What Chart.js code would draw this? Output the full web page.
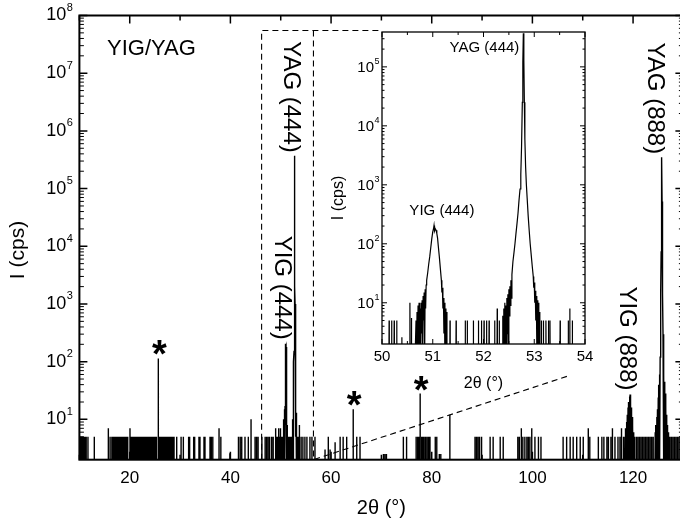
<!DOCTYPE html>
<html><head><meta charset="utf-8">
<script src="https://cdn.jsdelivr.net/npm/chart.js@4.4.1/dist/chart.umd.min.js"></script>
<style>
html,body{margin:0;padding:0;background:#fff;overflow:hidden;width:680px;height:527px;}
#wrap{position:relative;width:700px;height:527px;}
canvas{position:absolute;left:0;top:0;}
</style></head><body>
<div id="wrap"><canvas id="main" width="700" height="527"></canvas><canvas id="inset" width="700" height="527"></canvas></div>
<script>
// ---------- data (2θ in degrees, I in cps; ZERO = no counts, below the log axis) ----------
const ZERO = 1;
const mainNoiseAngles = [
 10.1,10.25,10.4,10.55,10.7,10.9,11.1,11.35,11.7,12.96,
 15.75,16.1,16.45,16.7,16.95,17.15,17.4,17.6,17.85,18.05,18.3,18.5,18.7,18.95,19.15,19.4,19.6,
 20.05,20.3,20.5,20.7,20.9,21.1,21.3,21.5,21.7,21.9,22.1,22.3,22.5,22.7,22.9,23.1,23.3,23.5,23.7,23.9,24.1,24.3,24.5,24.7,24.9,25.1,25.3,
 25.95,26.15,26.35,26.55,26.75,26.95,27.15,27.35,27.55,27.75,27.95,28.15,28.35,28.55,28.8,
 29.33,30.2,30.65,31.7,31.9,32.7,32.9,33.75,33.95,34.75,34.95,35.95,36.2,36.5,37.74,38.1,39.9,
 41.6,41.95,42.25,42.9,43.56,44.1,44.9,45.2,45.5,46.25,46.9,47.2,47.5,47.8,48.2,48.5,
 48.9,49.05,49.2,49.35,49.5,49.65,49.8,49.95,
 54.05,54.4,54.8,55.2,55.8,56.2,56.8,
 58.8,59.45,59.8,60.8,61.8,62.4,63.1,65.1,65.75,
 70.4,70.7,71.0,74.36,75.0,
 76.9,77.2,77.45,78.0,78.25,78.5,78.8,79.1,79.4,79.65,80.7,81.0,81.5,81.8,
 88.6,88.9,89.2,89.5,89.9,91.6,92.2,93.6,94.2,
 97.1,97.4,97.8,98.1,98.5,98.9,99.2,99.5,99.87,100.5,101.2,101.7,
 106.1,106.8,107.5,108.1,108.8,109.5,110.1,111.1,111.4,
 113.1,113.8,114.2,114.8,115.1,115.6,115.9,116.4,117.0,117.4,117.7,118.1,
 120.7,121.0,121.3,121.6,121.9,122.2,122.5,122.8,123.1,123.4,123.7,124.0,
 127.3,127.6,127.9,128.2,128.5,128.8,129.1,129.4
];
const mainNoiseCounts = [
 5,5,5,5,5,5,5,5,5,5,
 7,5,5,5,5,5,5,5,5,5,5,5,5,5,5,5,5,
 7,5,5,5,5,5,5,5,5,5,5,5,5,5,5,5,5,5,5,5,5,5,5,5,5,5,5,
 5,5,5,5,5,5,5,5,5,5,5,5,5,5,5,
 5,5,5,5,5,5,5,5,5,5,5,5,5,5,7,5,2.6,
 5,5,5,5,5,10,5,5,5,5,5,5,5,5,5,5,
 5,7,5,5,7,5,5,7,
 5,5,5,5,5,5,5,
 3,5,3,4,5,5,5,5,5,
 2.5,2.5,2.5,5,5,
 5,5,5,5,5,5,5,5,5,5,5,5,2.5,2.5,
 5,5,5,5,5,5,5,5,5,
 5,5,7,5,5,5,5,5,7,5,5,5,
 5,5,5,5,5,5,5,7,5,
 5,5,5,5,5,5,7,5,5,5,7,5,
 5,5,5,5,5,5,5,5,5,5,5,5,
 5,5,5,5,5,5,5,5
];
// single lines marked with *
const starredAngles = [25.68, 64.4, 77.7];
const starredCounts = [114, 15, 28];
const otherLineAngles = [83.6];
const otherLineCounts = [12];
// YIG (888) and YAG (888) profiles
const yig888Angles = [118.35,118.4,118.45,118.55,118.6,118.7,118.75,118.85,118.9,119.0,119.05,119.15,119.2,119.3,119.35,119.4,119.45,119.5,119.55,119.65,119.7,119.8,119.85,119.95,120.0,120.1,120.15,120.3,120.35];
const yig888Counts = [1,5,1,7,1,9,1,12,1,16,1,20,1,25,1,27,1,22,1,16,1,11,1,8,1,6,1,5,1];
const yag888Angles = [124.35,124.4,124.45,124.55,124.6,124.7,124.75,124.85,124.9,125.0,125.05,125.12,125.17,125.25,125.3,125.38,125.45,125.52,125.58,125.64,125.7,125.76,125.82,125.88,125.95,126.02,126.08,126.13,126.2,126.27,126.32,126.4,126.45,126.53,126.58,126.66,126.71,126.8,126.85,126.95,127.0,127.1,127.15];
const yag888Counts = [1,6,1,8,1,11,1,15,1,24,1,40,1,60,2,120,300,1500,8000,60000,350000,60000,8000,1500,300,120,2,60,1,45,1,28,1,18,1,12,1,8,1,6,1,5,1];
// fine scan 50-54° (inset)
const scanNoiseAngles = [50.14,50.19,50.24,50.29,50.39,50.55,50.58,51.34,51.46,51.64,51.68,51.80,51.90,51.96,52.01,52.06,52.11,52.22,52.27,52.31,53.14,53.18,53.23,53.28,53.31,53.51,53.67,53.70,53.75];
const scanNoiseCounts = [5,5,5,5,2.6,10,5.5,5,5,5,5,5,5,5,5,5,5,5,8,5,5,5,5,5,5,5,5,8,5];
const yig444Angles = [50.65,50.67,50.68,50.69,50.70,50.71,50.72,50.73,50.74,50.75,50.76,50.77,50.78,50.79,50.80,50.81,50.82,50.83,50.84,50.85,50.86,50.87,50.88,50.90,50.92,50.94,50.96,50.98,51.00,51.015,51.025,51.035,51.05,51.065,51.08,51.095,51.11,51.13,51.15,51.17,51.18,51.19,51.20,51.21,51.22,51.23,51.24,51.25,51.26,51.27,51.28];
const yig444Counts = [1,5,1,7,1,9,1,10,1,8,1,10,3,11,1,13,5,15,1,17,8,20,24,32,45,60,85,120,160,180,205,165,180,170,150,125,90,60,38,24,15,18,8,12,3,10,1,8,1,7,1];
const yag444Angles = [52.37,52.38,52.39,52.40,52.41,52.42,52.43,52.44,52.45,52.46,52.47,52.48,52.49,52.50,52.51,52.52,52.53,52.54,52.55,52.56,52.58,52.60,52.62,52.64,52.66,52.68,52.70,52.72,52.735,52.75,52.765,52.775,52.785,52.795,52.805,52.815,52.83,52.845,52.86,52.88,52.90,52.92,52.94,52.96,52.98,52.99,53.00,53.01,53.02,53.03,53.04,53.05,53.06,53.07,53.08,53.09,53.10,53.11];
const yag444Counts = [1,6,1,8,1,10,2,9,1,12,3,14,2,17,6,19,9,24,12,30,50,70,100,150,220,330,550,850,1500,4500,25000,120000,370000,130000,25000,6000,2000,1000,600,300,170,100,65,42,28,18,22,10,16,5,13,2,11,1,10,1,7,1];
// ticks
const mainXMajor = [20,40,60,80,100,120];
const mainXMinor = [10,30,50,70,90,110,130];
const mainYDecades = [1,2,3,4,5,6,7,8];
const insetXMajor = [50,51,52,53,54];
const insetXMinor = [50.5,51.5,52.5,53.5];
const insetYDecades = [1,2,3,4,5];

// ---------- build series ----------
function spikes(angles, counts){const p=[];angles.forEach((a,i)=>{p.push({x:a-0.004,y:ZERO},{x:a,y:counts[i]},{x:a+0.004,y:ZERO});});return p;}
function profile(angles, counts){return angles.map((a,i)=>({x:a,y:counts[i]}));}
const byX=(a,b)=>a.x-b.x;
const scanSeries = [...spikes(scanNoiseAngles,scanNoiseCounts),...profile(yig444Angles,yig444Counts),...profile(yag444Angles,yag444Counts)].sort(byX);
const mainSeries = [...spikes(mainNoiseAngles,mainNoiseCounts),...spikes(starredAngles,starredCounts),...spikes(otherLineAngles,otherLineCounts),
  ...profile(yig888Angles,yig888Counts),...profile(yag888Angles,yag888Counts),...scanSeries].sort(byX);

// zoom box guide (data coordinates of the main chart)
const boxLeft=46.2, boxRight=56.5, boxTop=5.5e7, boxLinkEnd=69.4, diagEndX=107.5, diagEndY=58;

const FONT='"Liberation Sans", Arial, Helvetica, sans-serif';
function powerLabel(ctx, right, cy, exp, size, supSize){
  ctx.textBaseline='middle'; ctx.textAlign='left';
  ctx.font=`${supSize}px ${FONT}`; const ws=ctx.measureText(exp).width;
  ctx.font=`${size}px ${FONT}`; const wb=ctx.measureText('10').width;
  const x0=right-ws-wb;
  ctx.fillText('10',x0,cy);
  ctx.font=`${supSize}px ${FONT}`; ctx.fillText(exp,x0+wb+0.5,cy-size*0.42);
}
function vtext(ctx, text, x, y, size, rot, align){
  ctx.save(); ctx.translate(x,y); ctx.rotate(rot);
  ctx.font=`${size}px ${FONT}`; ctx.textAlign=align; ctx.textBaseline='middle';
  ctx.fillText(text,0,0); ctx.restore();
}

const mainDecor={id:'mainDecor',afterDraw(chart){
  const {ctx,chartArea:a,scales:{x,y}}=chart;
  ctx.save(); ctx.strokeStyle='#000'; ctx.fillStyle='#000';
  ctx.lineWidth=1.5; ctx.beginPath();
  for(const v of mainXMajor){const p=x.getPixelForValue(v);ctx.moveTo(p,a.bottom);ctx.lineTo(p,a.bottom-8);ctx.moveTo(p,a.top);ctx.lineTo(p,a.top+8);}
  for(const v of mainXMinor){const p=x.getPixelForValue(v);ctx.moveTo(p,a.bottom);ctx.lineTo(p,a.bottom-5);ctx.moveTo(p,a.top);ctx.lineTo(p,a.top+5);}
  for(const d of mainYDecades){const p=y.getPixelForValue(10**d);ctx.moveTo(a.left,p);ctx.lineTo(a.left+8,p);ctx.moveTo(a.right,p);ctx.lineTo(a.right-8,p);}
  ctx.stroke();
  ctx.lineWidth=1; ctx.beginPath();
  for(let d=0;d<8;d++){for(let m=2;m<=9;m++){const v=m*10**d;if(v<=y.min||v>=y.max)continue;const p=y.getPixelForValue(v);ctx.moveTo(a.left,p);ctx.lineTo(a.left+4.5,p);ctx.moveTo(a.right,p);ctx.lineTo(a.right-4.5,p);}}
  ctx.stroke();
  ctx.lineWidth=2; ctx.strokeRect(a.left,a.top,a.right-a.left,a.bottom-a.top);
  // tick labels
  ctx.font=`17px ${FONT}`; ctx.textAlign='center'; ctx.textBaseline='top';
  for(const v of mainXMajor){ctx.fillText(String(v),x.getPixelForValue(v),a.bottom+10);}
  for(const d of mainYDecades){powerLabel(ctx,a.left-7,y.getPixelForValue(10**d),String(d),18,11);}
  // axis titles
  ctx.font=`20px ${FONT}`; ctx.textAlign='center'; ctx.textBaseline='middle';
  ctx.fillText('2θ (°)',(a.left+a.right)/2,508);
  vtext(ctx,'I (cps)',18,250,21,-Math.PI/2,'center');
  // annotations
  ctx.font=`22px ${FONT}`; ctx.textAlign='left'; ctx.textBaseline='middle';
  ctx.fillText('YIG/YAG',107,49);
  vtext(ctx,'YAG (444)',x.getPixelForValue(52.785)-4,y.getPixelForValue(3.7e5)-3,24,Math.PI/2,'right');
  vtext(ctx,'YIG (444)',x.getPixelForValue(51.025)-4,y.getPixelForValue(205)-4,24,Math.PI/2,'right');
  vtext(ctx,'YAG (888)',x.getPixelForValue(125.7)-7,y.getPixelForValue(3.5e5)-3,24,Math.PI/2,'right');
  vtext(ctx,'YIG (888)',x.getPixelForValue(119.4)-3,y.getPixelForValue(27)-4,24,Math.PI/2,'right');
  ctx.font=`bold 38px ${FONT}`; ctx.textAlign='center'; ctx.textBaseline='alphabetic';
  starredAngles.forEach((a2,i)=>{ctx.fillText('*',x.getPixelForValue(a2)+1,y.getPixelForValue(starredCounts[i])+9);});
  ctx.restore();
}};

new Chart(document.getElementById('main'),{
  type:'line',
  data:{datasets:[
    {data:mainSeries,borderColor:'#000',borderWidth:1.4,pointRadius:0,tension:0,fill:false},
    {data:[{x:boxLinkEnd,y:boxTop},{x:boxLeft,y:boxTop},{x:boxLeft,y:2}],borderColor:'#000',borderWidth:1.1,borderDash:[6,4],pointRadius:0,fill:false},
    {data:[{x:boxRight,y:boxTop},{x:boxRight,y:2},{x:diagEndX,y:diagEndY}],borderColor:'#000',borderWidth:1.1,borderDash:[6,4],pointRadius:0,fill:false}
  ]},
  options:{responsive:false,animation:false,events:[],
    layout:{padding:{left:79.4,right:16.6,top:15.5,bottom:67.3}},
    scales:{x:{type:'linear',min:10,max:130,display:false},y:{type:'logarithmic',min:2,max:1e8,display:false}},
    plugins:{legend:{display:false},tooltip:{enabled:false}}},
  plugins:[mainDecor]
});

const insetDecor={id:'insetDecor',afterDraw(chart){
  const {ctx,chartArea:a,scales:{x,y}}=chart;
  ctx.save(); ctx.strokeStyle='#000'; ctx.fillStyle='#000';
  ctx.lineWidth=1; ctx.beginPath();
  for(const v of insetXMajor){const p=x.getPixelForValue(v);ctx.moveTo(p,a.bottom);ctx.lineTo(p,a.bottom-5);ctx.moveTo(p,a.top);ctx.lineTo(p,a.top+5);}
  for(const v of insetXMinor){const p=x.getPixelForValue(v);ctx.moveTo(p,a.bottom);ctx.lineTo(p,a.bottom-3);ctx.moveTo(p,a.top);ctx.lineTo(p,a.top+3);}
  for(const d of insetYDecades){const p=y.getPixelForValue(10**d);ctx.moveTo(a.left,p);ctx.lineTo(a.left+5,p);ctx.moveTo(a.right,p);ctx.lineTo(a.right-5,p);}
  for(let d=0;d<6;d++){for(let m=2;m<=9;m++){const v=m*10**d;if(v<=y.min||v>=y.max)continue;const p=y.getPixelForValue(v);ctx.moveTo(a.left,p);ctx.lineTo(a.left+2.5,p);ctx.moveTo(a.right,p);ctx.lineTo(a.right-2.5,p);}}
  ctx.stroke();
  ctx.lineWidth=1.3; ctx.strokeRect(a.left,a.top,a.right-a.left,a.bottom-a.top);
  ctx.font=`15px ${FONT}`; ctx.textAlign='center'; ctx.textBaseline='top';
  for(const v of insetXMajor){ctx.fillText(String(v),x.getPixelForValue(v),a.bottom+5);}
  for(const d of insetYDecades){powerLabel(ctx,a.left-3,y.getPixelForValue(10**d)+1,String(d),15,9);}
  ctx.font=`16px ${FONT}`; ctx.textAlign='center'; ctx.textBaseline='middle';
  ctx.fillText('2θ (°)',(a.left+a.right)/2,384);
  vtext(ctx,'I (cps)',339,198,16,-Math.PI/2,'center');
  ctx.font=`15px ${FONT}`; ctx.textAlign='right'; ctx.textBaseline='middle';
  ctx.fillText('YAG (444)',x.getPixelForValue(52.785)-4,48);
  ctx.textAlign='center';
  ctx.fillText('YIG (444)',x.getPixelForValue(51.18),211);
  ctx.restore();
}};

new Chart(document.getElementById('inset'),{
  type:'line',
  data:{datasets:[{data:scanSeries,borderColor:'#000',borderWidth:1.2,pointRadius:0,tension:0,fill:false}]},
  options:{responsive:false,animation:false,events:[],
    layout:{padding:{left:382,right:115,top:32,bottom:183}},
    scales:{x:{type:'linear',min:50,max:54,display:false},y:{type:'logarithmic',min:2,max:3.9e5,display:false}},
    plugins:{legend:{display:false},tooltip:{enabled:false}}},
  plugins:[insetDecor]
});
</script></body></html>
